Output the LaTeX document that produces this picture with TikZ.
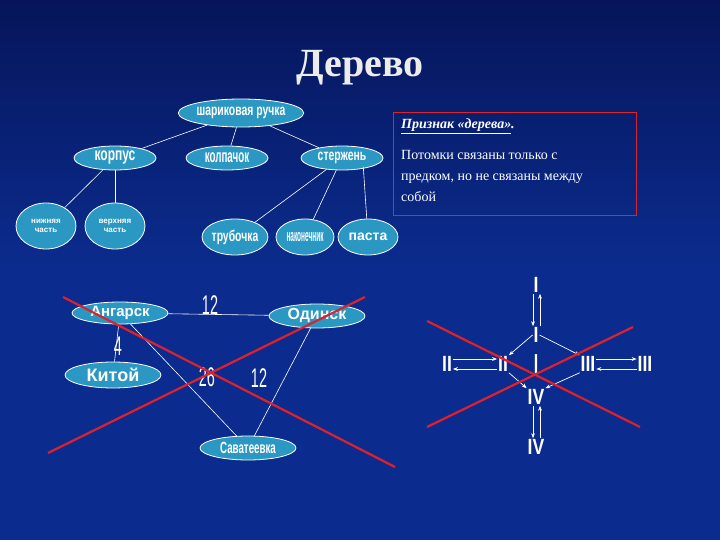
\documentclass[tikz,border=0pt]{standalone}
\usepackage{fontspec}
\setmainfont{Liberation Serif}
\setsansfont{Liberation Sans}
\usetikzlibrary{shapes.geometric,arrows.meta}
\definecolor{bgA}{HTML}{0B2C8E}
\definecolor{bgB}{HTML}{06155A}
\definecolor{ell}{HTML}{2A98C2}
\definecolor{xred}{HTML}{E0202A}
\begin{document}
\begin{tikzpicture}[x=1pt,y=-1pt,
  ov/.style={ellipse,draw=white,line width=0.8pt,fill=ell,text=white,font=\sffamily\bfseries,inner sep=0pt},
  ed/.style={white,line width=0.6pt},
  num/.style={text=white,font=\sffamily\fontsize{18}{18}\selectfont,yscale=1.5,xscale=0.8},
  rom/.style={text=white,font=\sffamily\bfseries\fontsize{22}{22}\selectfont,xscale=0.8,inner sep=1pt},
  ar/.style={white,line width=0.7pt,-{Stealth[length=5pt]}},
  cross/.style={xred,line width=2.2pt}]
\shade[top color=bgB,bottom color=bgA,middle color=bgA] (0,0) rectangle (720,540);
\useasboundingbox (0,0) rectangle (720,540);
\node[text=white!85!gray,font=\bfseries\fontsize{40}{40}\selectfont] (title) at (360,68) {Дерево};
% tree
\node[ov,minimum width=120,minimum height=28,font=\sffamily\bfseries\fontsize{13}{13}\selectfont] (r) at (241,113) {\scalebox{0.8}[1.2]{шариковая ручка}};
\node[ov,minimum width=82,minimum height=24,font=\sffamily\bfseries\fontsize{15}{15}\selectfont] (k) at (115,158) {\scalebox{0.8}[1.2]{корпус}};
\node[ov,minimum width=82,minimum height=24,font=\sffamily\bfseries\fontsize{14}{14}\selectfont] (c) at (227,158) {\scalebox{0.7}[1.3]{колпачок}};
\node[ov,minimum width=82,minimum height=24,font=\sffamily\bfseries\fontsize{13}{13}\selectfont] (s) at (342,158) {\scalebox{0.8}[1.2]{стержень}};
\node[ov,minimum width=60,minimum height=46,align=center,font=\sffamily\bfseries\fontsize{8}{9}\selectfont] (n) at (46,226) {нижняя\\часть};
\node[ov,minimum width=60,minimum height=46,align=center,font=\sffamily\bfseries\fontsize{8}{9}\selectfont] (v) at (115,226) {верхняя\\часть};
\node[ov,minimum width=60,minimum height=36,font=\sffamily\bfseries\fontsize{13}{13}\selectfont] (t) at (235,237) {\scalebox{0.8}[1.2]{трубочка}};
\node[ov,minimum width=58,minimum height=36,font=\sffamily\bfseries\fontsize{13}{13}\selectfont] (na) at (305,237) {\scalebox{0.5}[1.3]{наконечник}};
\node[ov,minimum width=60,minimum height=36,font=\sffamily\bfseries\fontsize{14}{14}\selectfont] (p) at (368,237) {паста};
\draw[ed] (r) -- (k); \draw[ed] (r) -- (c); \draw[ed] (r) -- (s);
\draw[ed] (k) -- (n); \draw[ed] (k) -- (v);
\draw[ed] (s) -- (t); \draw[ed] (s) -- (na); \draw[ed] (s.south east) ++(-8,0) coordinate (sp) -- (p);
% text box
\node[draw=xred,line width=1pt,minimum width=243,minimum height=103,anchor=north west] (box) at (393,112) {};
\node[anchor=north west,text=white,font=\itshape\bfseries\fontsize{14}{14}\selectfont,inner sep=0pt] (h) at (401,119) {\underline{Признак «дерева»}.};
\node[anchor=north west,text=white,align=left,font=\fontsize{14}{21}\selectfont,inner sep=0pt] (body) at (401,150) {Потомки связаны только с\\ предком, но не связаны между\\ собой};
% graph
\node[ov,minimum width=96,minimum height=22,font=\sffamily\bfseries\fontsize{15}{15}\selectfont] (A) at (120,313) {Ангарск};
\node[ov,minimum width=96,minimum height=24,font=\sffamily\bfseries\fontsize{16}{16}\selectfont] (O) at (317,316) {Одинск};
\node[ov,minimum width=96,minimum height=26,font=\sffamily\bfseries\fontsize{18}{18}\selectfont] (K) at (113,375) {Китой};
\node[ov,minimum width=96,minimum height=24,font=\sffamily\bfseries\fontsize{13}{13}\selectfont] (S) at (248,448) {\scalebox{0.75}[1.25]{Саватеевка}};
\draw[ed] (A) -- (O); \draw[ed] (A) -- (K); \draw[ed] (A) -- (S); \draw[ed] (O) -- (S);
\node[num] (l1) at (210,305) {12};
\node[num] (l2) at (118,346) {4};
\node[num] (l3) at (207,377) {26};
\node[num] (l4) at (259,378) {12};
\coordinate (x1a) at (63,297); \coordinate (x1b) at (395,467);
\coordinate (x2a) at (48,453); \coordinate (x2b) at (365,297);
\draw[cross] (x1a) -- (x1b); \draw[cross] (x2a) -- (x2b);
% right diagram
\node[rom] (I1) at (536,285) {I};
\node[rom] (I2) at (536,335) {I};
\node[rom] (I3) at (536,365) {|};
\node[rom] (II1) at (447,364) {II};
\node[rom] (II2) at (503,364) {II};
\node[rom] (III2) at (588,364) {III};
\node[rom] (III1) at (645,364) {III};
\node[rom] (IV1) at (536,397) {IV};
\node[rom] (IV2) at (536,447) {IV};
\draw[ar] ([xshift=-3]I1.south) -- ([xshift=-3]I2.north);
\draw[ar] ([xshift=4]I2.north) -- ([xshift=4]I1.south);
\draw[ar] (I2.west) -- (II2.north east);
\draw[ar] (I2.east) -- (III2.north west);
\draw[ar] ([yshift=5]II1.east) -- ([yshift=5]II2.west);
\draw[ar] ([yshift=-5]II2.west) -- ([yshift=-5]II1.east);
\draw[ar] ([yshift=5]III2.east) -- ([yshift=5]III1.west);
\draw[ar] ([yshift=-5]III1.west) -- ([yshift=-5]III2.east);
\draw[ar] (II2.south east) -- (IV1.north west);
\draw[ar] (III2.south west) -- (IV1.north east);
\draw[ar] ([xshift=-3]IV1.south) -- ([xshift=-3]IV2.north);
\draw[ar] ([xshift=4]IV2.north) -- ([xshift=4]IV1.south);
\coordinate (x3a) at (427,321); \coordinate (x3b) at (640,427);
\coordinate (x4a) at (427,427); \coordinate (x4b) at (633,327);
\draw[cross] (x3a) -- (x3b); \draw[cross] (x4a) -- (x4b);
\end{tikzpicture}
\end{document}
